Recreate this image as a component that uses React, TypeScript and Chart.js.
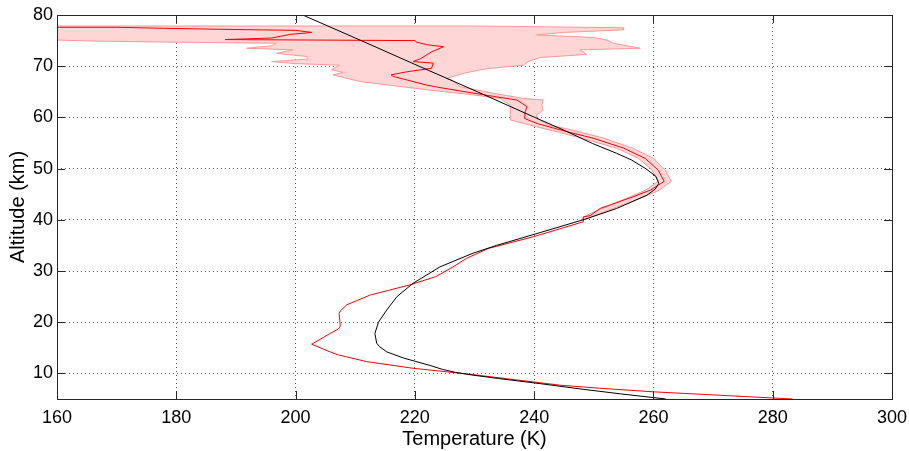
import React, { useEffect, useRef } from "react";
import { Chart, registerables } from "chart.js";

Chart.register(...registerables);

// Axis ticks
const xTickValues = [160, 180, 200, 220, 240, 260, 280, 300];
const yTickValues = [10, 20, 30, 40, 50, 60, 70, 80];

// Model profile (black)
const modelAlt = [5, 6, 7, 8, 9, 9.7, 10.2, 10.8, 11.6, 13, 14.2, 15.2, 15.9, 17.8, 20, 22.4, 25, 27.6, 30.8, 33.5, 35, 37.5, 40.1, 42.2, 44.8, 46, 47.1, 48.5, 50, 51.7, 53, 54.9, 57.5, 60, 65, 70, 75, 80];
const modelTemp = [262.1, 254.5, 247.5, 241, 234, 229.5, 226.8, 224.6, 222.4, 218.1, 215.3, 214.1, 213.6, 213.3, 213.9, 215.3, 217, 219.7, 224.2, 229.8, 233.7, 241, 248.5, 253.8, 258.9, 260.3, 260.9, 260.4, 258.7, 256.3, 253.8, 249.8, 245, 240.1, 230.5, 220.7, 211, 201.2];

// Mean measured profile (red)
const meanAlt = [5.0, 5.2, 5.8, 6.4, 7.1, 7.7, 8.5, 9.9, 11.0, 12.3, 13.6, 14.2, 15.7, 17.8, 18.7, 19.2, 21.7, 22.2, 23.4, 25.3, 27.3, 28.9, 30.8, 32.5, 34.4, 36.7, 39.6, 40.1, 40.6, 40.8, 42.2, 44.5, 45.8, 47.5, 49.7, 52, 54, 55.9, 57.3, 58.8, 59.8, 61.1, 62.1, 63.4, 64.1, 65.7, 66.3, 68.0, 68.3, 68.9, 69.6, 70.6, 70.9, 71.5, 72.8, 73.8, 74.2, 74.7, 75.0, 75.2, 75.5, 76.2, 76.6, 77.0, 77.2, 77.4, 77.6, 77.6];
const meanTemp = [283.3, 280, 270, 260, 251, 244.3, 238.7, 228.7, 219.7, 211.9, 207.2, 205.8, 202.7, 205.8, 207.2, 207.5, 207.3, 207.5, 208.6, 212.5, 219.2, 223.5, 226.4, 228.7, 232.3, 239.9, 248.2, 248.2, 248.3, 249.4, 251, 256.6, 259.5, 261.8, 260.8, 258.6, 255, 250, 245.2, 240.5, 238.4, 238.5, 238.8, 237.1, 233.2, 224.8, 222, 216.4, 216.0, 218.6, 222.8, 223.1, 219.7, 221, 222.8, 224.8, 222, 220.3, 220, 188.2, 196, 199, 202.7, 200, 188, 178, 170, 150];

// Spread envelope: lower/left edge (going up) and upper/right edge (going down)
const envLowAlt = [40.0, 41.0, 44.2, 45.8, 47.5, 49.7, 52, 54, 55.6, 57.0, 58.2, 59.5, 61.1, 62.4, 63.7, 64.5, 65.4, 67.0, 68.3, 68.8, 69.3, 70.2, 70.5, 70.9, 71.4, 71.9, 72.5, 73.2, 73.5, 74.0, 74.5, 74.6, 74.7, 74.9, 75.1, 75.1];
const envLowTemp = [247.8, 249, 255.5, 258.7, 260.8, 259.8, 257.5, 253.8, 249.0, 244.5, 240.3, 236, 236, 236, 234.3, 229, 222, 210.8, 206.3, 208, 206, 207.4, 200, 196, 202, 201.9, 196.8, 199.6, 191.8, 196, 196.8, 186.8, 179, 166.7, 160, 150];
const envHighAlt = [77.85, 77.85, 77.5, 77.1, 76.6, 76.1, 75.6, 75.1, 74.5, 73.9, 73.5, 73.2, 72.3, 71.7, 70.9, 70.2, 69.5, 68.6, 67.6, 67.3, 66.0, 64.7, 63.7, 63.4, 62.4, 61.4, 60.5, 59.8, 58.5, 57.5, 56.0, 54.0, 52.0, 49.7, 47.5, 45.8, 44.2, 41.0, 40.0];
const envHighTemp = [150, 230, 255, 255, 245, 240.4, 250, 252.2, 253.3, 256, 257.8, 247.7, 248.8, 241, 239, 238.2, 232, 228.1, 225.3, 226.2, 227.6, 233.2, 238.2, 241.5, 241.3, 241.5, 240.4, 240.5, 242.5, 246.5, 251.5, 256.5, 260, 262, 263, 261, 257.8, 250.5, 248.5];

const FONT = "'Liberation Sans', Arial, Helvetica, sans-serif";

const toPoints = (xs: number[], ys: number[]) => xs.map((x, i) => ({ x, y: ys[i] }));

const framePlugin = {
  id: "matlabFrame",
  afterDatasetsDraw(chart: any) {
    const { ctx, chartArea } = chart;
    const { left, right, top, bottom } = chartArea;
    const xs = chart.scales.x;
    const ys = chart.scales.y;
    const L = 8;
    ctx.save();
    ctx.strokeStyle = "#262626";
    ctx.lineWidth = 1;
    ctx.beginPath();
    for (const t of xs.ticks) {
      const px = Math.round(xs.getPixelForValue(t.value)) + 0.5;
      ctx.moveTo(px, bottom);
      ctx.lineTo(px, bottom - L);
      ctx.moveTo(px, top);
      ctx.lineTo(px, top + L);
    }
    for (const t of ys.ticks) {
      const py = Math.round(ys.getPixelForValue(t.value)) + 0.5;
      ctx.moveTo(left, py);
      ctx.lineTo(left + L, py);
      ctx.moveTo(right, py);
      ctx.lineTo(right - L, py);
    }
    ctx.stroke();
    ctx.strokeRect(Math.round(left) + 0.5, Math.round(top) + 0.5, Math.round(right - left), Math.round(bottom - top));
    ctx.restore();
  },
};

export default function App() {
  const canvasRef = useRef<HTMLCanvasElement | null>(null);

  useEffect(() => {
    if (!canvasRef.current) return;
    const envelope = [
      ...toPoints(envLowTemp, envLowAlt),
      ...toPoints(envHighTemp, envHighAlt),
    ];
    const chart = new Chart(canvasRef.current, {
      type: "scatter",
      data: {
        datasets: [
          {
            label: "Model",
            data: toPoints(modelTemp, modelAlt),
            showLine: true,
            borderColor: "#000000",
            borderWidth: 1,
            pointRadius: 0,
            fill: false,
            order: 0,
          },
          {
            label: "Mean",
            data: toPoints(meanTemp, meanAlt),
            showLine: true,
            borderColor: "#ff0000",
            borderWidth: 1,
            pointRadius: 0,
            fill: false,
            order: 1,
          },
          {
            label: "Spread",
            data: envelope,
            showLine: true,
            borderColor: "rgb(255,150,150)",
            backgroundColor: "rgb(255,214,214)",
            borderWidth: 1,
            pointRadius: 0,
            fill: "shape",
            order: 2,
          },
        ],
      },
      options: {
        animation: false,
        responsive: true,
        maintainAspectRatio: false,
        layout: { padding: { top: 15, right: 17, left: 0, bottom: 0 } },
        plugins: {
          legend: { display: false },
          tooltip: { enabled: false },
        },
        elements: { point: { radius: 0 }, line: { tension: 0 } },
        scales: {
          x: {
            type: "linear",
            min: 160,
            max: 300,
            afterBuildTicks: (s: any) => {
              s.ticks = xTickValues.map((v) => ({ value: v }));
            },
            afterFit: (s: any) => {
              s.height = 52;
              s.paddingLeft = 0;
              s.paddingRight = 0;
            },
            grid: { color: "#555", drawTicks: false, lineWidth: 1 },
            border: { display: false, dash: [1, 3] },
            ticks: {
              padding: 8,
              color: "#000",
              maxRotation: 0,
              autoSkip: false,
              font: { family: FONT, size: 18 },
            },
            title: {
              display: true,
              text: "Temperature (K)",
              color: "#000",
              font: { family: FONT, size: 20 },
              padding: { top: 0, bottom: 0 },
            },
          },
          y: {
            type: "linear",
            min: 5,
            max: 80,
            afterBuildTicks: (s: any) => {
              s.ticks = yTickValues.map((v) => ({ value: v }));
            },
            afterFit: (s: any) => {
              s.width = 57;
              s.paddingTop = 0;
              s.paddingBottom = 0;
            },
            grid: { color: "#555", drawTicks: false, lineWidth: 1 },
            border: { display: false, dash: [1, 3] },
            ticks: {
              padding: 4,
              color: "#000",
              autoSkip: false,
              font: { family: FONT, size: 18 },
            },
            title: {
              display: true,
              text: "Altitude (km)",
              color: "#000",
              font: { family: FONT, size: 20 },
              padding: { top: 6, bottom: 0 },
            },
          },
        },
      },
      plugins: [framePlugin],
    } as any);
    return () => chart.destroy();
  }, []);

  return (
    <div style={{ position: "fixed", left: 0, top: 0, width: 909, height: 451, background: "#fff" }}>
      <canvas ref={canvasRef} />
    </div>
  );
}
